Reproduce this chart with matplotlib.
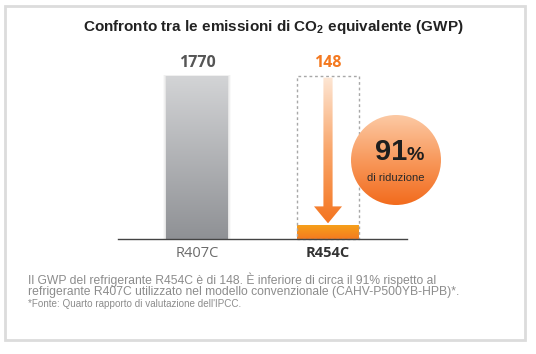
"""
Vergleich der CO2-Aequivalent-Emissionen (GWP) R407C vs. R454C.
Schreibt out.png (536x354 px).
"""

import numpy as np
import matplotlib
matplotlib.use("Agg")
import matplotlib.pyplot as plt
from matplotlib.colors import LinearSegmentedColormap
from matplotlib.patches import Rectangle, Polygon, Circle

# --- Daten -----------------------------------------------------------------
categories = ["R407C", "R454C"]
gwp_values = [1770, 148]
reduction_pct = 91
title_text = "Confronto tra le emissioni di CO$_2$ equivalente (GWP)"
note_lines = [
    "Il GWP del refrigerante R454C è di 148. È inferiore di circa il 91% rispetto al",
    "refrigerante R407C utilizzato nel modello convenzionale (CAHV-P500YB-HPB)*.",
]
source_text = "*Fonte: Quarto rapporto di valutazione dell'IPCC."

W, H = 536, 354
DPI = 100
BAR_W = 0.466


def px(x0, y0, x1, y1):
    """Pixelbox (oben links Ursprung) -> Figure-Koordinaten [l, b, w, h]."""
    return [x0 / W, 1 - y1 / H, (x1 - x0) / W, (y1 - y0) / H]


def gradient(ax, extent, colors, clip, zorder=2):
    """Vertikaler Farbverlauf (oben -> unten), an clip-Patch beschnitten."""
    cmap = LinearSegmentedColormap.from_list("g", colors)
    grad = np.linspace(0, 1, 256).reshape(-1, 1)
    im = ax.imshow(grad, cmap=cmap, extent=extent, aspect="auto",
                   origin="upper", zorder=zorder, interpolation="bicubic")
    im.set_clip_path(clip)
    return im


plt.rcParams.update({
    "font.family": ["Liberation Sans", "DejaVu Sans"],
    "mathtext.fontset": "custom",
    "mathtext.rm": "Liberation Sans:bold",
    "mathtext.it": "Liberation Sans:bold",
    "mathtext.bf": "Liberation Sans:bold",
})

fig = plt.figure(figsize=(W / DPI, H / DPI), dpi=DPI)
fig.patch.set_facecolor("white")

# Rahmen
fig.patches.append(Rectangle((5 / W, 1 - 340 / H), 520 / W, 334 / H,
                             transform=fig.transFigure, fill=False,
                             edgecolor="#dcdcdc", linewidth=2.0))

fig.text(273 / W, 1 - 27 / H, title_text, ha="center", va="center",
         fontsize=11, fontweight="bold", color="#222222")

# --- Balken ----------------------------------------------------------------
ax = fig.add_axes(px(118, 76, 407, 239))
ax.set_xlim(-0.603, 1.603)
ax.set_ylim(0, gwp_values[0])
ax.set_autoscale_on(False)
for s in ["top", "right", "left"]:
    ax.spines[s].set_visible(False)
ax.spines["bottom"].set_color("#444444")
ax.spines["bottom"].set_linewidth(1.0)
ax.spines["bottom"].set_zorder(5)
ax.set_yticks([])
ax.set_xticks([0, 1])
ax.tick_params(axis="x", length=0, pad=5)
ax.set_xticklabels(categories)
for lab, col, wt in zip(ax.get_xticklabels(), ["#6b6b6b", "#333333"],
                        ["normal", "bold"]):
    lab.set_fontfamily(["Open Sans", "DejaVu Sans"])
    lab.set_fontsize(10.5)
    lab.set_color(col)
    lab.set_fontweight(wt)

bars = ax.bar(range(len(categories)), gwp_values, width=BAR_W,
              color="none", zorder=2)
bar_colors = [["#d3d4d6", "#8f9195"], ["#f6a01a", "#f47b20"]]

# weicher Schatten seitlich am grauen Balken
b0 = bars[0]
for k, a in [(0.028, 0.025), (0.018, 0.035), (0.009, 0.045)]:
    ax.add_patch(Rectangle((b0.get_x() - k, 0), b0.get_width() + 2 * k,
                           b0.get_height() + k * 400, facecolor="#000000",
                           alpha=a, edgecolor="none", zorder=1,
                           clip_on=False))

for b, cols in zip(bars, bar_colors):
    gradient(ax, [b.get_x(), b.get_x() + b.get_width(), 0, b.get_height()],
             cols, b)

# gestrichelter Rahmen = alter Wert
ax.add_patch(Rectangle((1 - BAR_W / 2, 0), BAR_W, gwp_values[0], fill=False,
                       edgecolor="#a8a8a8", linestyle=(0, (2, 2)),
                       linewidth=1.0, zorder=3, clip_on=False))

# Pfeil von altem zu neuem Wert
shaft_w, head_w = 0.035, 0.107
top = gwp_values[0] * 0.99
head_base = gwp_values[0] * 0.2
tip = gwp_values[1] * 1.15
arrow = Polygon([(1 - shaft_w, top), (1 + shaft_w, top),
                 (1 + shaft_w, head_base), (1 + head_w, head_base),
                 (1, tip), (1 - head_w, head_base), (1 - shaft_w, head_base)],
                closed=True, facecolor="none", edgecolor="none",
                transform=ax.transData)
ax.add_patch(arrow)
gradient(ax, [1 - head_w, 1 + head_w, tip, top],
         ["#fde6d4", "#f9a66b", "#f47520"], arrow, zorder=4)

label_y = gwp_values[0] * 1.08
for i, v in enumerate(gwp_values):
    ax.text(i, label_y, f"{v}", ha="center", va="center", fontsize=11.5,
            fontweight="bold", family=["Open Sans", "DejaVu Sans"],
            color=["#555555", "#f47920"][i])

# --- Kreis mit Reduktion ---------------------------------------------------
cax = fig.add_axes(px(351, 115, 441, 205))
cax.set_axis_off()
circ = Circle((0.5, 0.5), 0.5, transform=cax.transAxes,
              facecolor="none", edgecolor="none")
cax.add_patch(circ)
gradient(cax, [0, 1, 0, 1], ["#fcc9a4", "#f8995c", "#f26b1d"], circ)
cax.set_xlim(0, 1)
cax.set_ylim(0, 1)
cax.text(0.62, 0.5, f"{reduction_pct}", ha="right", va="baseline",
         fontsize=21, fontweight="bold", color="#1e1e1e")
cax.text(0.62, 0.5, "%", ha="left", va="baseline", fontsize=14,
         fontweight="bold", color="#1e1e1e")
cax.text(0.5, 0.30, "di riduzione", ha="center", va="center", fontsize=8,
         color="#2a2a2a")

# --- Fusszeile -------------------------------------------------------------
for i, line in enumerate(note_lines):
    fig.text(28 / W, 1 - (280 + 12 * i) / H, line, ha="left", va="center",
             fontsize=8.7, color="#8c8c8c")
fig.text(28 / W, 1 - 304 / H, source_text, ha="left", va="center",
         fontsize=7.1, color="#8c8c8c")

fig.savefig("out.png", dpi=DPI)
